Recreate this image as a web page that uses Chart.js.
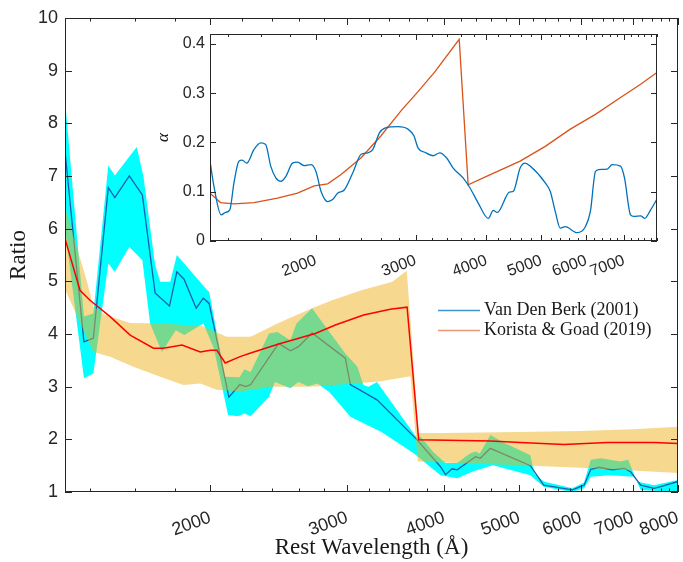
<!DOCTYPE html>
<html>
<head>
<meta charset="utf-8">
<script src="https://cdn.jsdelivr.net/npm/chart.js@4.4.1/dist/chart.umd.min.js"></script>
<style>
  html, body { margin:0; padding:0; background:#fff; }
  #wrap { position:relative; width:683px; height:562px; }
  #main { position:absolute; left:0; top:0; }
  #inset { position:absolute; left:150px; top:28px; }
</style>
</head>
<body>
<div id="wrap">
  <canvas id="main" width="683" height="562"></canvas>
  <canvas id="inset" width="515" height="255"></canvas>
</div>
<script>
// Van Den Berk (2001) ratio, line + band
let vdbWave = [1300, 1375, 1414, 1478, 1507, 1573, 1635, 1698, 1772, 1811, 1850, 1918, 1959, 1993, 2113, 2183, 2221, 2254, 2449, 2536, 2597, 2704, 2984, 3029, 3278, 3692, 3957, 4017, 4095, 4157, 4390, 4452, 4587, 5165, 5373, 5848, 6056, 6178, 6330, 6586, 6819, 6956, 7163, 7452, 7601, 8000];
let vdbRatio = [7.47, 3.85, 3.92, 6.78, 6.59, 7.0, 6.64, 4.78, 4.53, 5.18, 5.04, 4.49, 4.68, 4.58, 2.80, 3.04, 3.0, 3.04, 3.82, 3.68, 3.76, 4.02, 3.54, 3.04, 2.75, 1.99, 1.48, 1.33, 1.44, 1.42, 1.67, 1.64, 1.83, 1.5, 1.13, 1.04, 1.13, 1.43, 1.47, 1.42, 1.45, 1.38, 1.13, 1.07, 1.1, 1.2];
let vdbUpWave = [1300, 1375, 1414, 1478, 1507, 1608, 1640, 1698, 1724, 1776, 1811, 1982, 1993, 2089, 2181, 2212, 2254, 2380, 2440, 2535, 2582, 2704, 2984, 3093, 3148, 3196, 3278, 3692, 3730, 3878, 4017, 4157, 4317, 4390, 4445, 4587, 4756, 5165, 5226, 5373, 5848, 6056, 6178, 6362, 6740, 6903, 7080, 7452, 8000];
let vdbUp = [8.45, 4.33, 4.39, 7.2, 7.01, 7.55, 7.0, 5.31, 4.99, 4.99, 5.5, 4.83, 4.8, 3.19, 3.18, 3.33, 3.28, 4.01, 4.04, 3.88, 4.2, 4.49, 3.63, 3.38, 3.03, 3.0, 3.09, 2.02, 2.05, 1.75, 1.55, 1.55, 1.73, 1.77, 1.73, 2.08, 1.95, 1.70, 1.35, 1.2, 1.07, 1.18, 1.61, 1.64, 1.58, 1.61, 1.2, 1.13, 1.23];
let vdbLoWave = [1300, 1375, 1414, 1478, 1507, 1573, 1635, 1673, 1733, 1805, 1852, 1959, 2021, 2108, 2172, 2212, 2254, 2380, 2422, 2535, 2597, 2671, 2749, 2845, 3029, 3321, 3658, 3957, 4157, 4354, 4620, 5165, 5373, 5848, 6056, 6178, 6520, 7037, 7163, 8000];
let vdbLo = [6.0, 3.16, 3.25, 5.34, 5.18, 5.65, 5.4, 4.2, 3.66, 4.07, 3.98, 4.2, 3.73, 2.46, 2.44, 2.49, 2.44, 2.81, 3.09, 2.97, 3.09, 3.01, 3.06, 2.9, 2.43, 2.14, 1.73, 1.32, 1.26, 1.39, 1.51, 1.32, 1.1, 1.0, 1.07, 1.29, 1.32, 1.29, 1.04, 1.0];

// Korista & Goad (2019) ratio, line + band
let kgWave = [1300, 1359, 1400, 1486, 1577, 1690, 1740, 1839, 1941, 2000, 2039, 2090, 2184, 2254, 2449, 2730, 2897, 3150, 3409, 3584, 3709, 4587, 5016, 5703, 6487, 7452, 8000];
let kgRatio = [5.81, 4.83, 4.64, 4.33, 3.98, 3.73, 3.73, 3.79, 3.66, 3.69, 3.69, 3.45, 3.57, 3.64, 3.81, 4.01, 4.17, 4.36, 4.47, 4.51, 1.99, 1.97, 1.94, 1.9, 1.94, 1.94, 1.92];
let kgUpWave = [1300, 1386, 1414, 1465, 1577, 1724, 1950, 2100, 2254, 2440, 2704, 2870, 3130, 3430, 3580, 3709, 4000, 5000, 6000, 7000, 8000];
let kgUp = [6.41, 5.02, 4.52, 4.36, 4.21, 4.2, 4.15, 3.95, 3.95, 4.2, 4.49, 4.64, 4.83, 4.99, 5.2, 2.12, 2.12, 2.14, 2.16, 2.19, 2.24];
let kgLoWave = [1300, 1414, 1486, 1592, 1724, 1847, 1941, 2039, 2184, 2400, 2700, 3000, 3300, 3620, 3700, 4000, 5000, 6000, 7000, 8000];
let kgLo = [4.85, 3.66, 3.57, 3.38, 3.19, 3.03, 3.06, 2.94, 2.91, 3.0, 3.0, 3.05, 3.1, 3.2, 1.58, 1.56, 1.51, 1.46, 1.41, 1.36];

// inset: alpha
let alphaWave = [1300, 1321, 1360, 1385, 1409, 1433, 1462, 1482, 1509, 1555, 1598, 1630, 1664, 1699, 1734, 1770, 1818, 1855, 1907, 1960, 2000, 2041, 2097, 2140, 2184, 2245, 2322, 2403, 2469, 2520, 2590, 2661, 2790, 2907, 2979, 3028, 3112, 3219, 3308, 3400, 3493, 3637, 3739, 3868, 4029, 4112, 4180, 4390, 4462, 4586, 4680, 4777, 5079, 5183, 5290, 5399, 5510, 5780, 5980, 6102, 6229, 6313, 6533, 6667, 6898, 7010, 7184, 7282, 7484, 7607, 7796, 8000];
let alphaVdb = [0.162, 0.111, 0.053, 0.058, 0.063, 0.118, 0.162, 0.164, 0.158, 0.186, 0.199, 0.196, 0.152, 0.128, 0.121, 0.131, 0.158, 0.160, 0.153, 0.155, 0.141, 0.101, 0.080, 0.084, 0.097, 0.104, 0.138, 0.176, 0.179, 0.186, 0.220, 0.230, 0.232, 0.227, 0.213, 0.189, 0.180, 0.173, 0.179, 0.169, 0.148, 0.128, 0.108, 0.077, 0.046, 0.062, 0.058, 0.099, 0.101, 0.148, 0.158, 0.152, 0.118, 0.101, 0.060, 0.026, 0.029, 0.017, 0.029, 0.060, 0.141, 0.145, 0.146, 0.155, 0.152, 0.128, 0.053, 0.050, 0.051, 0.046, 0.063, 0.085];
let alphaKgWave = [1300, 1357, 1433, 1555, 1710, 1855, 1986, 2097, 2215, 2403, 2603, 2830, 3028, 3242, 3580, 3713, 4000, 4586, 5079, 5624, 6229, 6898, 7484, 8000];
let alphaKg = [0.097, 0.078, 0.0755, 0.078, 0.087, 0.097, 0.112, 0.116, 0.135, 0.169, 0.213, 0.265, 0.303, 0.343, 0.409, 0.114, 0.131, 0.162, 0.192, 0.227, 0.257, 0.291, 0.318, 0.342];

// ticks
let waveTicks = [1400, 1600, 1800, 2000, 2200, 2400, 2600, 2800, 3000, 3200, 3400, 3600, 3800, 4000, 4200, 4400, 4600, 4800, 5000, 5200, 5400, 5600, 5800, 6000, 6200, 6400, 6600, 6800, 7000, 7200, 7400, 7600, 7800, 8000];
let mainWaveLabels = [2000, 3000, 4000, 5000, 6000, 7000, 8000];
let insetWaveLabels = [2000, 3000, 4000, 5000, 6000, 7000];
let ratioTicks = [1, 2, 3, 4, 5, 6, 7, 8, 9, 10];
let alphaTicks = [0, 0.1, 0.2, 0.3, 0.4];
let alphaTickLabels = ['0', '0.1', '0.2', '0.3', '0.4'];
let legendLabels = ['Van Den Berk (2001)', 'Korista & Goad (2019)'];

const axisColor = '#262626';
const sans = '"Liberation Sans", Arial, sans-serif';
const serif = '"Liberation Serif", "Times New Roman", serif';

function pts(xs, ys) {
    return xs.map(function(x, i) { return {x: x, y: ys[i]}; });
}
function band(upX, upY, loX, loY) {
    return pts(upX, upY).concat(pts(loX, loY).reverse());
}

// box + inward ticks
function framePlugin(o) {
    return {
        id: 'frame',
        afterDatasetsDraw(chart) {
            const ctx = chart.ctx, a = chart.chartArea;
            const x = chart.scales.x, y = chart.scales.y;
            ctx.save();
            ctx.strokeStyle = axisColor;
            ctx.lineWidth = 1;
            ctx.beginPath();
            waveTicks.forEach(function(v) {
                const px = Math.round(x.getPixelForValue(v)) + 0.5;
                const len = o.labels.indexOf(v) >= 0 ? o.major : o.minor;
                ctx.moveTo(px, a.bottom); ctx.lineTo(px, a.bottom - len);
                ctx.moveTo(px, a.top); ctx.lineTo(px, a.top + len);
            });
            o.yTicks.forEach(function(v) {
                const py = Math.round(y.getPixelForValue(v)) + 0.5;
                ctx.moveTo(a.left, py); ctx.lineTo(a.left + o.major, py);
                ctx.moveTo(a.right, py); ctx.lineTo(a.right - o.major, py);
            });
            ctx.stroke();
            ctx.strokeRect(a.left + 0.5, a.top + 0.5, a.right - a.left - 1, a.bottom - a.top - 1);
            ctx.restore();
        }
    };
}

const legendPlugin = {
    id: 'legendLines',
    afterDraw(chart) {
        const ctx = chart.ctx;
        const colors = ['rgba(0,114,189,0.75)', 'rgba(217,83,25,0.6)'];
        ctx.save();
        ctx.font = '18px ' + serif;
        ctx.textBaseline = 'middle';
        legendLabels.forEach(function(t, i) {
            const ly = 310.5 + i * 20;
            ctx.strokeStyle = colors[i];
            ctx.lineWidth = 1.3;
            ctx.beginPath(); ctx.moveTo(438, ly); ctx.lineTo(480, ly); ctx.stroke();
            ctx.fillStyle = '#1a1a1a';
            ctx.fillText(t, 484, ly);
        });
        ctx.restore();
    }
};

const whiteArea = {
    id: 'whiteArea',
    beforeDraw(chart) {
        const a = chart.chartArea;
        chart.ctx.save();
        chart.ctx.fillStyle = '#fff';
        chart.ctx.fillRect(a.left, a.top, a.right - a.left, a.bottom - a.top);
        chart.ctx.restore();
    }
};

function waveAxis(labels, fontSize, pad, height) {
    return {
        type: 'logarithmic',
        min: 1300,
        max: 8000,
        grid: {display: false, drawTicks: false},
        border: {display: false},
        afterBuildTicks: function(s) { s.ticks = waveTicks.map(function(v) { return {value: v}; }); },
        afterFit: function(s) { s.height = height; s.paddingLeft = 0; s.paddingRight = 0; },
        ticks: {
            autoSkip: false,
            minRotation: 20,
            maxRotation: 20,
            padding: pad,
            color: axisColor,
            font: {family: sans, size: fontSize},
            callback: function(v) { return labels.indexOf(v) >= 0 ? String(v) : ''; }
        }
    };
}

let mainChart = new Chart(document.getElementById('main'), {
    type: 'line',
    data: {
        datasets: [{
            label: 'K&G',
            data: pts(kgWave, kgRatio),
            borderColor: '#ff0000',
            borderWidth: 1.5,
            pointRadius: 0,
            fill: false,
            order: 1
        }, {
            label: 'K&G band',
            data: band(kgUpWave, kgUp, kgLoWave, kgLo),
            backgroundColor: 'rgba(237,177,32,0.5)',
            borderColor: 'rgba(0,0,0,0)',
            borderWidth: 0,
            pointRadius: 0,
            fill: 'shape',
            order: 2
        }, {
            label: 'VdB',
            data: pts(vdbWave, vdbRatio),
            borderColor: '#1060b0',
            borderWidth: 1.3,
            pointRadius: 0,
            fill: false,
            order: 3
        }, {
            label: 'VdB band',
            data: band(vdbUpWave, vdbUp, vdbLoWave, vdbLo),
            backgroundColor: '#00ffff',
            borderColor: 'rgba(0,0,0,0)',
            borderWidth: 0,
            pointRadius: 0,
            fill: 'shape',
            order: 4
        }]
    },
    options: {
        responsive: false,
        animation: false,
        events: [],
        layout: {padding: {top: 18, right: 5, left: 0, bottom: 0}},
        plugins: {legend: {display: false}, tooltip: {enabled: false}},
        scales: {
            x: Object.assign(waveAxis(mainWaveLabels, 18, 15, 70), {
                title: {display: true, text: 'Rest Wavelength (Å)', color: '#1a1a1a',
                        font: {family: serif, size: 23}, padding: {top: 0, bottom: 0}}
            }),
            y: {
                type: 'linear',
                min: 1,
                max: 10,
                grid: {display: false, drawTicks: false},
                border: {display: false},
                afterBuildTicks: function(s) { s.ticks = ratioTicks.map(function(v) { return {value: v}; }); },
                afterFit: function(s) { s.width = 65; s.paddingTop = 0; s.paddingBottom = 0; },
                ticks: {padding: 7, color: axisColor, font: {family: sans, size: 18}},
                title: {display: true, text: 'Ratio', color: '#1a1a1a',
                        font: {family: serif, size: 23}, padding: {top: 5, bottom: 0}}
            }
        }
    },
    plugins: [framePlugin({labels: mainWaveLabels, yTicks: ratioTicks, major: 7, minor: 3.5}), legendPlugin]
});

let insetChart = new Chart(document.getElementById('inset'), {
    type: 'line',
    data: {
        datasets: [{
            label: 'VdB alpha',
            data: pts(alphaWave, alphaVdb),
            borderColor: '#0072bd',
            borderWidth: 1.3,
            pointRadius: 0,
            cubicInterpolationMode: 'monotone',
            fill: false
        }, {
            label: 'K&G alpha',
            data: pts(alphaKgWave, alphaKg),
            borderColor: '#d95319',
            borderWidth: 1.3,
            pointRadius: 0,
            fill: false
        }]
    },
    options: {
        responsive: false,
        animation: false,
        events: [],
        layout: {padding: {top: 6, right: 8, left: 0, bottom: 0}},
        plugins: {legend: {display: false}, tooltip: {enabled: false}},
        scales: {
            x: waveAxis(insetWaveLabels, 16, 10, 42),
            y: {
                type: 'linear',
                min: 0,
                max: 0.42,
                grid: {display: false, drawTicks: false},
                border: {display: false},
                afterBuildTicks: function(s) { s.ticks = alphaTicks.map(function(v) { return {value: v}; }); },
                afterFit: function(s) { s.width = 60; s.paddingTop = 0; s.paddingBottom = 0; },
                ticks: {
                    padding: 5,
                    color: axisColor,
                    font: {family: sans, size: 16},
                    callback: function(v, i) { return alphaTickLabels[i]; }
                },
                title: {display: true, text: 'α', color: '#1a1a1a',
                        font: {family: serif, size: 17, style: 'italic'}, padding: {top: 3, bottom: 0}}
            }
        }
    },
    plugins: [whiteArea, framePlugin({labels: insetWaveLabels, yTicks: alphaTicks, major: 6, minor: 3})]
});
</script>
</body>
</html>
